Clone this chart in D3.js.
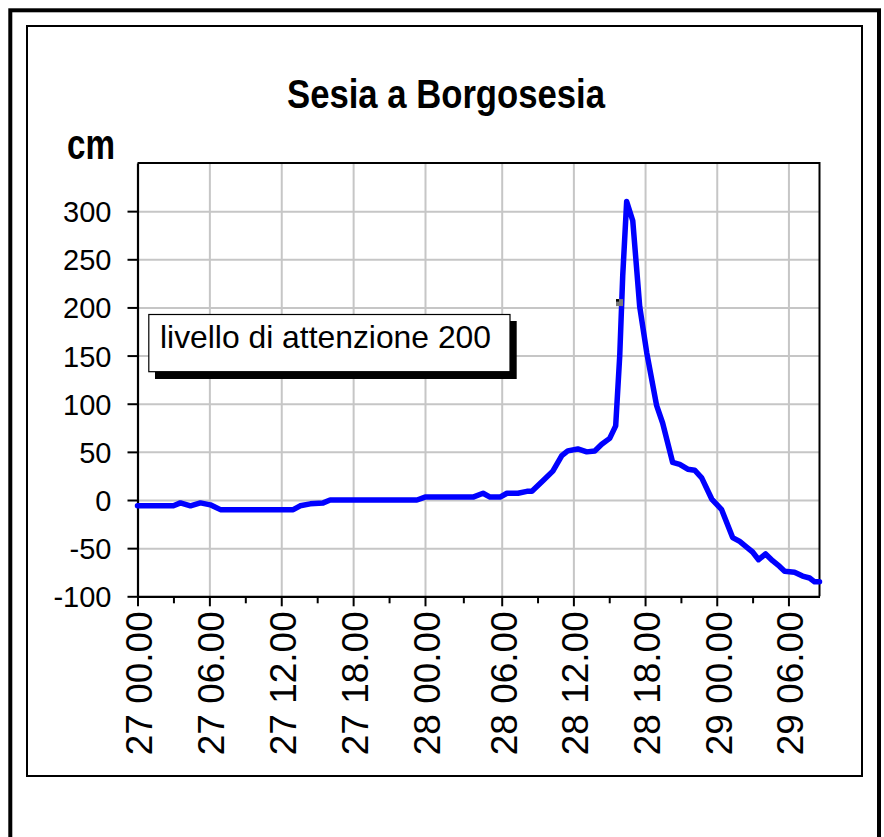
<!DOCTYPE html>
<html>
<head>
<meta charset="utf-8">
<script src="https://cdn.jsdelivr.net/npm/d3@7"></script>
<style>
  html, body { margin: 0; padding: 0; background: #ffffff; }
  svg { display: block; }
  text { font-family: "Liberation Sans", Arial, Helvetica, sans-serif; fill: #000; }
</style>
</head>
<body>
<svg id="chart" width="884" height="837"></svg>
<script>
// ---------------- data ----------------
const chartTitle = "Sesia a Borgosesia";
const unitLabel = "cm";
const noteText = "livello di attenzione 200";

// hours elapsed since 27 00.00
const hours = [0, 3.0, 3.58, 4.42, 5.25, 6.08, 6.92, 13.0, 13.58, 14.42, 15.5, 16.08, 23.33, 24.0,
  27.76, 28.54, 29.09, 29.87, 30.44, 31.36, 32.11, 32.53, 33.45, 34.28, 35.03, 35.53, 36.37,
  37.12, 37.79, 38.37, 39.04, 39.54, 39.88, 40.13, 40.46, 40.97, 41.55, 42.14, 42.97, 43.47,
  44.31, 44.9, 45.57, 46.15, 46.74, 47.58, 48.41, 49.33, 49.92, 50.5, 51.0, 51.5, 52.09,
  52.67, 53.26, 53.68, 54.51, 55.18, 55.77, 56.19, 56.6];
// water level (cm)
const levels = [-6, -6, -3, -6, -3, -5, -10, -10, -6, -4, -3, 0, 0, 3,
  3, 7, 3, 3, 7, 7, 9, 9, 20, 30, 46, 51, 53,
  50, 51, 58, 64, 77, 150, 233, 310, 290, 201, 153, 98, 80,
  39, 37, 32, 31, 23, 1, -10, -39, -43, -49, -54, -62, -56,
  -63, -69, -74, -75, -79, -81, -85, -85];

const markerHours = [39.86];
const markerLevels = [205];

const xTickHours = [0, 6, 12, 18, 24, 30, 36, 42, 48, 54];
const xTickLabels = ["27 00.00", "27 06.00", "27 12.00", "27 18.00", "28 00.00",
  "28 06.00", "28 12.00", "28 18.00", "29 00.00", "29 06.00"];
const xMinorHours = [3, 9, 15, 21, 27, 33, 39, 45, 51];
const yTicks = [-100, -50, 0, 50, 100, 150, 200, 250, 300];
const yTickLabels = ["-100", "-50", "0", "50", "100", "150", "200", "250", "300"];
const yDomain = [-100, 350];
// category axis breakpoints (hours) — the axis spacing is not uniform in the original
const xBreaks = [0, 24, 30, 56.6];

// ---------------- layout ----------------
const svg = d3.select("#chart");
const plotL = 137.5, plotR = 819.5, plotT = 163, plotB = 596.3;

// outer frames
svg.append("rect").attr("x", 10.3).attr("y", 10.3).attr("width", 868.7).attr("height", 840)
  .attr("fill", "none").attr("stroke", "#000").attr("stroke-width", 4);
svg.append("rect").attr("x", 27).attr("y", 26).attr("width", 835).attr("height", 750)
  .attr("fill", "#fff").attr("stroke", "#000").attr("stroke-width", 2);

// scales
const x = d3.scaleLinear().domain(xBreaks).range([plotL, 425, 501.7, plotR]);
const y = d3.scaleLinear().domain(yDomain).range([plotB, plotT]);

// gridlines
const gy = svg.append("g").attr("transform", `translate(${plotL},0)`)
  .call(d3.axisLeft(y).tickValues(yTicks.filter(v => v > yDomain[0])).tickSize(-(plotR - plotL)).tickFormat(""));
gy.select(".domain").remove();
gy.selectAll("line").attr("stroke", "#c6c6c6").attr("stroke-width", 2);

const gx = svg.append("g").attr("transform", `translate(0,${plotT})`)
  .call(d3.axisBottom(x).tickValues(xTickHours.filter(h => h > 0)).tickSize(plotB - plotT).tickFormat(""));
gx.select(".domain").remove();
gx.selectAll("line").attr("stroke", "#c6c6c6").attr("stroke-width", 2);

// plot border (top & right)
svg.append("path")
  .attr("d", `M${plotL},${plotT}H${plotR}V${plotB}`)
  .attr("fill", "none").attr("stroke", "#000").attr("stroke-width", 2);

// y axis
const yAxis = svg.append("g").attr("transform", `translate(${plotL},0)`)
  .call(d3.axisLeft(y).tickValues(yTicks).tickSize(10).tickPadding(16).tickSizeOuter(0)
    .tickFormat((d, i) => yTickLabels[i]));
yAxis.select(".domain").attr("stroke", "#000").attr("stroke-width", 2.2);
yAxis.selectAll(".tick line").attr("stroke", "#000").attr("stroke-width", 2);
yAxis.selectAll(".tick text")
  .style("font-family", '"Liberation Sans", Arial, sans-serif')
  .style("font-size", "29px").attr("fill", "#000").attr("dy", "0.36em");

// x axis minor ticks
const xMinor = svg.append("g").attr("transform", `translate(0,${plotB})`)
  .call(d3.axisBottom(x).tickValues(xMinorHours).tickSize(7).tickFormat(""));
xMinor.select(".domain").remove();
xMinor.selectAll("line").attr("stroke", "#000").attr("stroke-width", 2);

// x axis major
const xAxis = svg.append("g").attr("transform", `translate(0,${plotB})`)
  .call(d3.axisBottom(x).tickValues(xTickHours).tickSize(10).tickSizeOuter(0)
    .tickFormat((d, i) => xTickLabels[i]));
xAxis.select(".domain").attr("stroke", "#000").attr("stroke-width", 2.2);
xAxis.selectAll(".tick line").attr("stroke", "#000").attr("stroke-width", 2);
xAxis.selectAll(".tick text")
  .style("font-family", '"Liberation Sans", Arial, sans-serif')
  .style("font-size", "37px").attr("fill", "#000")
  .attr("text-anchor", "start")
  .attr("x", 0).attr("y", 0).attr("dy", "0.36em")
  .attr("transform", "translate(1,159) rotate(-90)");

// annotation box with shadow
const note = svg.append("g");
note.append("rect").attr("x", 155).attr("y", 321).attr("width", 361.7).attr("height", 58)
  .attr("fill", "#000");
note.append("rect").attr("x", 148.8).attr("y", 314.5).attr("width", 361.2).attr("height", 57.2)
  .attr("fill", "#fff").attr("stroke", "#000").attr("stroke-width", 1.2);
note.append("text").attr("x", 160).attr("y", 348)
  .style("font-size", "32px").attr("textLength", 331).attr("lengthAdjust", "spacingAndGlyphs")
  .text(noteText);

// series line
const pts = hours.map((h, i) => [h, levels[i]]);
svg.append("path").datum(pts)
  .attr("fill", "none").attr("stroke", "#0000ff").attr("stroke-width", 5.5)
  .attr("stroke-linejoin", "round").attr("stroke-linecap", "round")
  .attr("d", d3.line().x(d => x(d[0])).y(d => y(d[1])));

// small marker
const mk = svg.selectAll("g.marker").data(markerHours).enter().append("g").attr("class", "marker")
  .attr("transform", (d, i) => `translate(${x(d)},${y(markerLevels[i])})`);
mk.append("rect").attr("x", -3.5).attr("y", -3.5).attr("width", 7).attr("height", 7).attr("fill", "#7a7a7a");
mk.append("rect").attr("x", -3.5).attr("y", -3.5).attr("width", 3).attr("height", 2.5).attr("fill", "#000");

// title & unit
svg.append("text").attr("x", 287).attr("y", 108)
  .style("font-family", '"Liberation Sans Narrow", "Liberation Sans", Arial, sans-serif')
  .style("font-weight", "bold").style("font-size", "41px")
  .attr("textLength", 318).attr("lengthAdjust", "spacingAndGlyphs")
  .text(chartTitle);
svg.append("text").attr("x", 67).attr("y", 159)
  .style("font-family", '"Liberation Sans Narrow", "Liberation Sans", Arial, sans-serif')
  .style("font-weight", "bold").style("font-size", "42px")
  .attr("textLength", 48).attr("lengthAdjust", "spacingAndGlyphs")
  .text(unitLabel);
</script>
</body>
</html>
